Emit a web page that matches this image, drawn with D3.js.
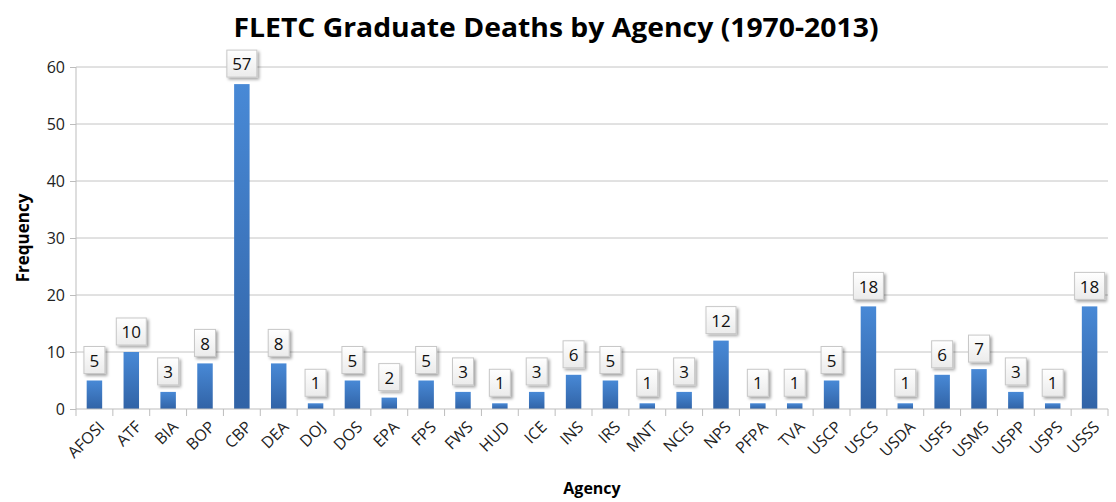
<!DOCTYPE html>
<html>
<head>
<meta charset="utf-8">
<script src="https://cdn.jsdelivr.net/npm/d3@7"></script>
<style>
  body { margin: 0; background: #fff; }
  svg { display: block; font-family: "Open Sans", sans-serif; }
</style>
</head>
<body>
<svg id="chart" width="1116" height="502"></svg>
<script>
let agencies = ['AFOSI','ATF','BIA','BOP','CBP','DEA','DOJ','DOS','EPA','FPS','FWS','HUD','ICE','INS','IRS','MNT','NCIS','NPS','PFPA','TVA','USCP','USCS','USDA','USFS','USMS','USPP','USPS','USSS']
let deaths = [5,10,3,8,57,8,1,5,2,5,3,1,3,6,5,1,3,12,1,1,5,18,1,6,7,3,1,18]
let yTicks = [0,10,20,30,40,50,60]

let svg = d3.select('#chart')
let margin = {top: 67, right: 8, bottom: 93, left: 76}
let width = 1116 - margin.left - margin.right
let height = 502 - margin.top - margin.bottom

let defs = svg.append('defs')
let grad = defs.append('linearGradient').attr('id', 'barGrad')
    .attr('x1', 0).attr('y1', 0).attr('x2', 0).attr('y2', 1)
grad.append('stop').attr('offset', '0%').attr('stop-color', '#4889d6')
grad.append('stop').attr('offset', '100%').attr('stop-color', '#3163a6')

let boxGrad = defs.append('linearGradient').attr('id', 'boxGrad')
    .attr('x1', 0).attr('y1', 0).attr('x2', 0).attr('y2', 1)
boxGrad.append('stop').attr('offset', '0%').attr('stop-color', '#ffffff')
boxGrad.append('stop').attr('offset', '100%').attr('stop-color', '#ebebeb')

let shadow = defs.append('filter').attr('id', 'shadow')
    .attr('x', '-30%').attr('y', '-30%').attr('width', '170%').attr('height', '170%')
shadow.append('feDropShadow').attr('dx', 2).attr('dy', 2).attr('stdDeviation', 1.5)
    .attr('flood-color', '#000').attr('flood-opacity', 0.35)

svg.append('text')
    .attr('x', 556).attr('y', 37)
    .attr('text-anchor', 'middle')
    .style('font-size', '27px').style('font-weight', 'bold')
    .attr('textLength', 645).attr('lengthAdjust', 'spacingAndGlyphs')
    .text('FLETC Graduate Deaths by Agency (1970-2013)')

let g = svg.append('g').attr('transform', 'translate(' + margin.left + ',' + margin.top + ')')

let x = d3.scaleBand().domain(agencies).range([0, width]).paddingInner(0.58).paddingOuter(0.29)
let y = d3.scaleLinear().domain([0, 60]).range([height, 0])

// grid
g.selectAll('.grid').data(yTicks.slice(1)).enter().append('line')
    .attr('x1', 0).attr('x2', width)
    .attr('y1', d => y(d)).attr('y2', d => y(d))
    .attr('stroke', '#c4c4c4').attr('stroke-width', 1)

// y axis
let yAxis = g.append('g')
    .call(d3.axisLeft(y).tickValues(yTicks).tickSize(6).tickPadding(5))
yAxis.select('.domain').attr('stroke', '#bdbdbd').attr('d', 'M0,' + height + 'V0')
yAxis.selectAll('.tick line').attr('stroke', '#bdbdbd')
yAxis.selectAll('text').style('font-size', '16px').attr('fill', '#222')
    .style('font-family', '"Open Sans", sans-serif')

// bars
g.selectAll('.bar').data(agencies).enter().append('rect')
    .attr('x', d => x(d))
    .attr('width', x.bandwidth())
    .attr('y', (d, i) => y(deaths[i]))
    .attr('height', (d, i) => height - y(deaths[i]))
    .attr('fill', 'url(#barGrad)')

// x axis
let xAxis = g.append('g').attr('transform', 'translate(0,' + height + ')')
xAxis.append('line').attr('x1', 0).attr('x2', width).attr('stroke', '#bdbdbd')
xAxis.selectAll('.xt').data(d3.range(agencies.length + 1)).enter().append('line')
    .attr('x1', i => i * width / agencies.length).attr('x2', i => i * width / agencies.length)
    .attr('y1', 0).attr('y2', 7).attr('stroke', '#bdbdbd')
xAxis.selectAll('.xl').data(agencies).enter().append('text')
    .attr('transform', d => 'translate(' + (x(d) + x.bandwidth() / 2 + 7) + ',15) rotate(-45)')
    .attr('text-anchor', 'end')
    .attr('dy', '0.35em')
    .style('font-size', '16px').attr('fill', '#222')
    .text(d => d)

// value labels
let lab = g.selectAll('.lab').data(agencies).enter().append('g')
    .attr('transform', (d, i) => 'translate(' + (x(d) + x.bandwidth() / 2) + ',' + (y(deaths[i]) - 20) + ')')
lab.append('rect')
    .attr('x', (d, i) => deaths[i] >= 10 ? -15 : -10.5)
    .attr('width', (d, i) => deaths[i] >= 10 ? 30 : 21)
    .attr('y', -14).attr('height', 27)
    .attr('fill', 'url(#boxGrad)')
    .attr('stroke', '#c8c8c8').attr('stroke-width', 1)
    .attr('filter', 'url(#shadow)')
lab.append('text')
    .attr('text-anchor', 'middle').attr('dy', '0.36em')
    .style('font-size', '17px').attr('fill', '#111')
    .text((d, i) => deaths[i])

// axis titles
svg.append('text')
    .attr('x', 592).attr('y', 494)
    .attr('text-anchor', 'middle')
    .style('font-size', '16px').style('font-weight', 'bold')
    .text('Agency')
svg.append('text')
    .attr('transform', 'translate(29,238) rotate(-90)')
    .attr('text-anchor', 'middle')
    .style('font-size', '17px').style('font-weight', 'bold')
    .text('Frequency')
</script>
</body>
</html>
